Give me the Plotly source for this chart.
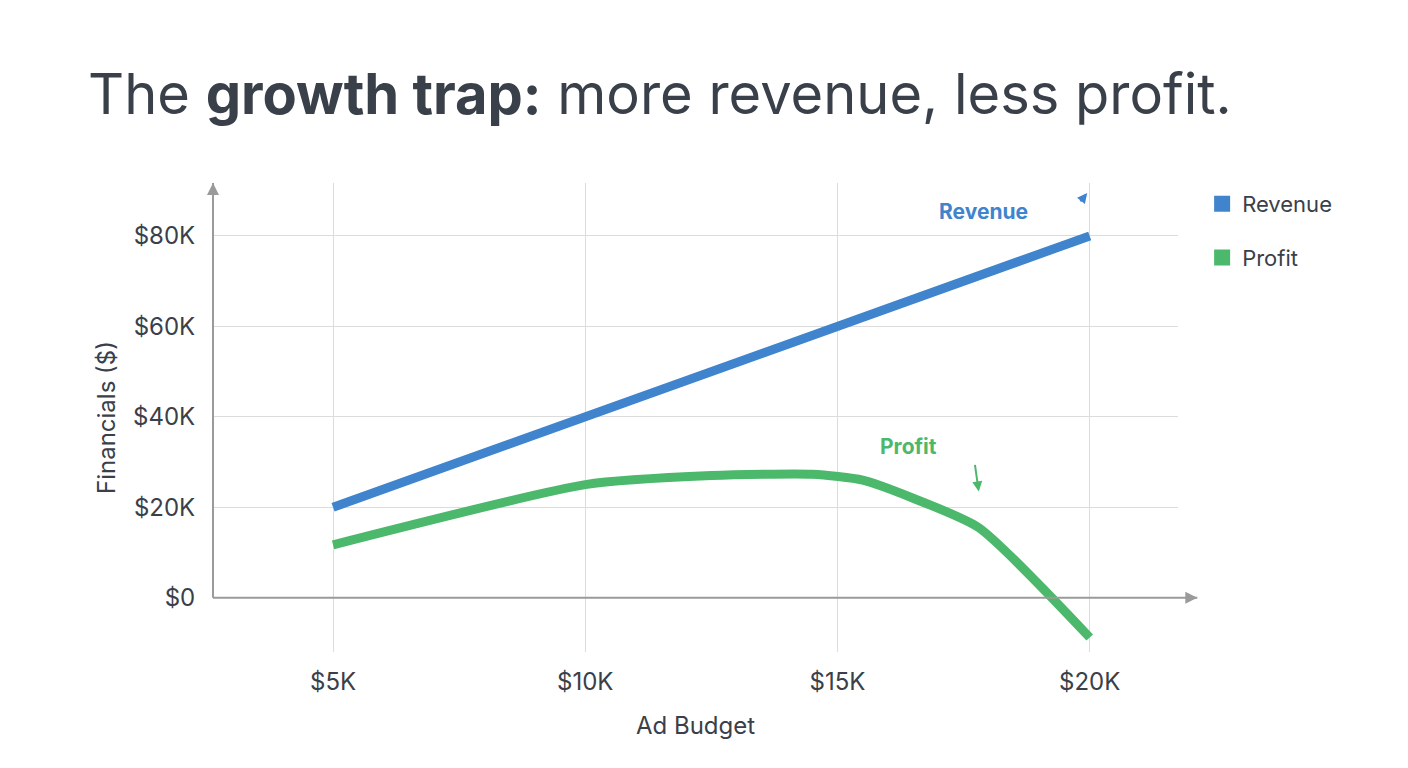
import plotly.graph_objects as go

budget = [5, 10, 15, 20]
revenue = [20, 40, 60, 80]
profit_x = [5, 10, 12.5, 14.5, 15.5, 16.5, 17.8, 20]
profit_y = [11.7, 25, 27, 27.3, 26, 22, 15.5, -8.8]
x_ticks = ["$5K", "$10K", "$15K", "$20K"]
y_vals = [0, 20, 40, 60, 80]
y_ticks = ["$0", "$20K", "$40K", "$60K", "$80K"]

blue = "#3f84cc"
green = "#4cb86c"
dark = "#3a4049"
font = "Inter"

fig = go.Figure()
fig.add_trace(go.Scatter(x=budget, y=revenue, mode="lines", line=dict(color=blue, width=9),
                         showlegend=False))
fig.add_trace(go.Scatter(x=profit_x, y=profit_y, mode="lines",
                         line=dict(color=green, width=9, shape="spline", smoothing=0.6),
                         showlegend=False))
# legend entries as squares
fig.add_trace(go.Scatter(x=[None], y=[None], mode="markers", name="Revenue", legendgroup="r",
                         marker=dict(symbol="square", size=28, color=blue)))
fig.add_trace(go.Scatter(x=[None], y=[None], mode="markers", name="Profit", legendgroup="p",
                         marker=dict(symbol="square", size=28, color=green)))

fig.update_layout(
    width=1408, height=768,
    margin=dict(l=205, r=238, t=175, b=124),
    plot_bgcolor="white", paper_bgcolor="white",
    font=dict(family=font, color=dark),
    legend=dict(x=1.025, y=1.0, xanchor="left", yanchor="top", font=dict(size=22),
                itemsizing="trace", tracegroupgap=22),
    xaxis=dict(range=[2.62, 21.75], tickvals=budget, ticktext=x_ticks, showgrid=True,
               gridcolor="#dcdcdc", zeroline=False, tickfont=dict(size=24, color=dark),
               ticks="outside", ticklen=8, tickcolor="rgba(0,0,0,0)", automargin=False,
               title=dict(text="Ad Budget", font=dict(size=24, color=dark), standoff=22)),
    yaxis=dict(range=[-12, 91.7], tickvals=y_vals, ticktext=y_ticks, showgrid=True,
               gridcolor="#dcdcdc", zeroline=False, tickfont=dict(size=24, color=dark),
               ticks="outside", ticklen=12, tickcolor="rgba(0,0,0,0)", automargin=False,
               title=dict(text="Financials ($)", font=dict(size=24, color=dark), standoff=10)),
)

# axis lines with arrows
fig.add_shape(type="line", xref="paper", yref="y", x0=0, x1=1.02, y0=0, y1=0,
              line=dict(color="#9a9a9a", width=2))
fig.add_shape(type="line", xref="paper", yref="y", x0=0, x1=0, y0=0, y1=91.7,
              line=dict(color="#9a9a9a", width=2))
fig.add_annotation(xref="paper", yref="y", x=1.02, y=0, ax=-12, ay=0, text="",
                   showarrow=True, arrowhead=2, arrowsize=1.2, arrowwidth=2, arrowcolor="#9a9a9a")
fig.add_annotation(xref="paper", yref="y", x=0, y=91.7, ax=0, ay=12, text="",
                   showarrow=True, arrowhead=2, arrowsize=1.2, arrowwidth=2, arrowcolor="#9a9a9a")

fig.add_annotation(xref="paper", yref="paper", x=-0.132, y=1.19, xanchor="left", yanchor="middle",
                   text="The <b>growth trap:</b> more revenue, less profit.", showarrow=False,
                   font=dict(size=56, color=dark, family=font))
fig.add_annotation(x=17.9, y=85.5, text="<b>Revenue</b>", showarrow=False,
                   font=dict(size=21, color=blue))
fig.add_annotation(x=19.95, y=89.5, ax=-8, ay=10, text="", showarrow=True,
                   arrowhead=2, arrowwidth=2, arrowcolor=blue)
fig.add_annotation(x=16.4, y=33.5, text="<b>Profit</b>", showarrow=False,
                   font=dict(size=21, color=green))
fig.add_annotation(x=17.8, y=23.5, ax=-4, ay=-28, text="", showarrow=True,
                   arrowhead=2, arrowwidth=2, arrowcolor=green)

fig.write_html("out.html")
